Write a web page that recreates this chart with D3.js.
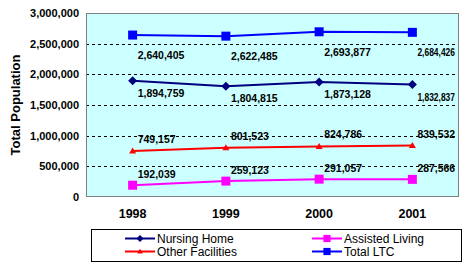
<!DOCTYPE html>
<html><head><meta charset="utf-8">
<script src="https://cdn.jsdelivr.net/npm/d3@7"></script>
<style>html,body{margin:0;padding:0;background:#fff}svg{display:block}</style>
</head><body>
<script>
const years = ["1998", "1999", "2000", "2001"];
const nursingHome = [1894759, 1804815, 1873128, 1832837];
const assistedLiving = [192039, 259123, 291057, 287566];
const otherFacilities = [749157, 801523, 824786, 839532];
const totalLTC = [2640405, 2622485, 2693877, 2684426];
const yTicks = [0, 500000, 1000000, 1500000, 2000000, 2500000, 3000000];
const yTitle = "Total Population";

const series = [
  {name: "Nursing Home", values: nursingHome, color: "#000080", marker: "diamond", ldy: 12},
  {name: "Assisted Living", values: assistedLiving, color: "#FF00FF", marker: "square", ldy: -11},
  {name: "Other Facilities", values: otherFacilities, color: "#FF0000", marker: "triangle", ldy: -12},
  {name: "Total LTC", values: totalLTC, color: "#0000FF", marker: "square", ldy: 20}
];

const W = 473, H = 272;
const plot = {l: 86, r: 459, t: 13, b: 197};
const svg = d3.select("body").append("svg").attr("width", W).attr("height", H)
  .style("font-family", "'Liberation Sans', Arial, sans-serif");

const x = d3.scaleBand().domain(years).range([plot.l, plot.r]);
const y = d3.scaleLinear().domain([0, 3000000]).range([plot.b, plot.t]);
const fmt = d3.format(",");

svg.append("rect").attr("x", plot.l).attr("y", plot.t)
  .attr("width", plot.r - plot.l).attr("height", plot.b - plot.t)
  .attr("fill", "#CCFFFF");

svg.append("g").selectAll("line").data(yTicks.filter(d => d > 0 && d < 3000000)).join("line")
  .attr("x1", plot.l).attr("x2", plot.r)
  .attr("y1", d => Math.round(y(d)) + 0.5).attr("y2", d => Math.round(y(d)) + 0.5)
  .attr("stroke", "#000").attr("stroke-width", 1).attr("stroke-dasharray", "3,3");

svg.append("rect").attr("x", plot.l + 0.5).attr("y", plot.t + 0.5)
  .attr("width", plot.r - plot.l - 1).attr("height", plot.b - plot.t - 1)
  .attr("fill", "none").attr("stroke", "#808080").attr("stroke-width", 1);

const yAxis = d3.axisLeft(y).tickValues(yTicks).tickFormat(fmt).tickSize(0).tickPadding(7);
const ya = svg.append("g").attr("transform", `translate(${plot.l},0)`).call(yAxis);
ya.select(".domain").remove();
ya.selectAll("text").attr("font-size", "11px").attr("font-weight", "bold")
  .attr("fill", "#000").attr("font-family", "'Liberation Sans', Arial, sans-serif");

const xAxis = d3.axisBottom(x).tickSize(0).tickPadding(12);
const xa = svg.append("g").attr("transform", `translate(0,${plot.b})`).call(xAxis);
xa.select(".domain").remove();
xa.selectAll("text").attr("font-size", "12.5px").attr("font-weight", "bold")
  .attr("fill", "#000").attr("font-family", "'Liberation Sans', Arial, sans-serif");

svg.append("text").attr("transform", `translate(20,${(plot.t + plot.b) / 2}) rotate(-90)`)
  .attr("text-anchor", "middle").attr("font-size", "13px").attr("font-weight", "bold")
  .text(yTitle);

function markerPath(type, k) {
  k = k || 1;
  if (type === "diamond") return `M0,${-4.5*k}L${4.5*k},0L0,${4.5*k}L${-4.5*k},0Z`;
  if (type === "square") return `M${-4.5*k},${-4.5*k}H${4.5*k}V${4.5*k}H${-4.5*k}Z`;
  return `M0,${-3.5*k}L${3.5*k},${2.5*k}L${-3.5*k},${2.5*k}Z`;
}

const line = d3.line().x((d, i) => x(years[i]) + x.bandwidth() / 2).y(d => y(d));

series.forEach(s => {
  const g = svg.append("g");
  g.append("path").attr("d", line(s.values)).attr("fill", "none")
    .attr("stroke", s.color).attr("stroke-width", 2);
  g.selectAll("path.m").data(s.values).join("path").attr("class", "m")
    .attr("transform", (d, i) => `translate(${x(years[i]) + x.bandwidth() / 2},${y(d)})`)
    .attr("d", markerPath(s.marker)).attr("fill", s.color);
  g.selectAll("text").data(s.values).join("text")
    .attr("x", (d, i) => x(years[i]) + x.bandwidth() / 2 + 5)
    .attr("y", d => y(d) + s.ldy + 4)
    .attr("font-size", "10.5px").attr("font-weight", "bold").attr("fill", "#000")
    .text(d => fmt(d))
    .each(function() {
      const t = d3.select(this);
      const start = +t.attr("x");
      const avail = plot.r - 4 - start;
      const w = this.getComputedTextLength();
      if (w > avail) t.attr("textLength", avail).attr("lengthAdjust", "spacingAndGlyphs");
    });
});

const lg = svg.append("g");
lg.append("rect").attr("x", 91.5).attr("y", 229.5).attr("width", 370).attr("height", 32)
  .attr("fill", "#fff").attr("stroke", "#000").attr("stroke-width", 1);
series.forEach((s, i) => {
  const col = i % 2, row = Math.floor(i / 2);
  const lx = col === 0 ? 125 : 312;
  const ly = row === 0 ? 238.5 : 251.5;
  const item = lg.append("g").attr("transform", `translate(${lx},${ly})`);
  item.append("line").attr("x1", 0).attr("x2", 30).attr("y1", 0).attr("y2", 0)
    .attr("stroke", s.color).attr("stroke-width", 2);
  item.append("path").attr("transform", "translate(15,0)").attr("d", markerPath(s.marker, 0.8))
    .attr("fill", s.color);
  item.append("text").attr("x", 32).attr("y", 4.5).attr("font-size", "12px")
    .attr("fill", "#000").text(s.name);
});
</script>
</body></html>
